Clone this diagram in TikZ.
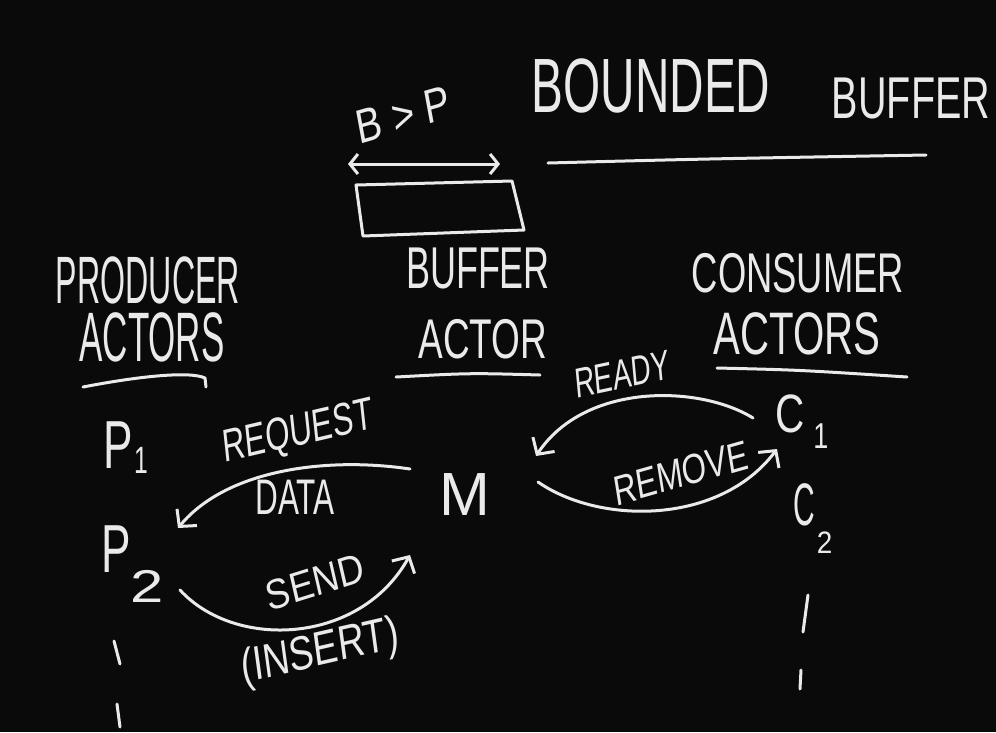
\documentclass[tikz,border=0pt]{standalone}
\usepackage{fontspec}
\setmainfont{Liberation Sans}
\usetikzlibrary{arrows.meta}
\definecolor{board}{HTML}{0A0A0A}
\definecolor{chalk}{HTML}{EAEAEA}
\newcommand{\fsz}[1]{\fontsize{#1}{#1}\selectfont}
\begin{document}
\begin{tikzpicture}[x=1pt,y=-1pt,
  chalkline/.style={draw=chalk, line width=3pt, line cap=round, line join=round},
  chalkarrow/.style={chalkline, -{Straight Barb[length=12pt,width=26pt]}},
  word/.style={text=chalk, inner sep=0pt, transform shape}]
\fill[board] (0,0) rectangle (996,732);
\useasboundingbox (0,0) rectangle (996,732);

% title
\node[word, font=\fsz{77}, xscale=0.62] (tb) at (651,86) {BOUNDED};
\node[word, font=\fsz{59}, xscale=0.67] (tbuf) at (911,98) {BUFFER};
\coordinate (tu1) at (548,163); \coordinate (tu2) at (926,155);
\draw[chalkline] (tu1) .. controls (700,159) .. (tu2);

% B > P and buffer box
\node[word, font=\fsz{48}, xscale=0.8, rotate=13] (bp) at (403,115) {B > P};
\coordinate (bl) at (348,164); \coordinate (br) at (500,164);
\draw[chalkline, {Straight Barb[length=8pt,width=20pt]}-{Straight Barb[length=8pt,width=20pt]}] (bl) -- (br);
\draw[chalkline] (356,185) -- (512,181) -- (524,230) -- (363,236) -- cycle;

% headings
\node[word, font=\fsz{67}, xscale=0.48] (prod1) at (148,280) {PRODUCER};
\node[word, font=\fsz{70}, xscale=0.50] (prod2) at (152,337) {ACTORS};
\draw[chalkline] (83,387) .. controls (140,376) and (190,371) .. (205,378) -- (206,387);

\node[word, font=\fsz{59}, xscale=0.61] (buf1) at (478,268) {BUFFER};
\node[word, font=\fsz{56}, xscale=0.66] (buf2) at (483,339) {ACTOR};
\draw[chalkline] (396,377) .. controls (470,373) .. (540,375);

\node[word, font=\fsz{56}, xscale=0.65] (con1) at (798,273) {CONSUMER};
\node[word, font=\fsz{60}, xscale=0.67] (con2) at (797,334) {ACTORS};
\draw[chalkline] (717,368) .. controls (800,370) .. (907,377);

% producers
\node[word, font=\fsz{68}, xscale=0.65, anchor=base west] (P1) at (103,468) {P\hspace{3pt}\raisebox{-5pt}{\fsz{38}1}};
\node[word, font=\fsz{68}, xscale=0.65, anchor=base west] (P2) at (101,572) {P\raisebox{-30pt}{\fsz{46}\scalebox{2}[1]{2}}};
\draw[chalkline] (114,641) -- (120,664);
\draw[chalkline] (117,704) -- (120,727);

% buffer actor
\node[word, font=\fsz{61}] (M) at (465,495) {M};

% consumers
\node[word, font=\fsz{54}, xscale=0.75, anchor=base west] (C1) at (775,432) {C\hspace{12pt}\raisebox{-16pt}{\fsz{36}1}};
\node[word, font=\fsz{60}, xscale=0.5, anchor=base west] (C2) at (793,525) {C\hspace{4pt}\raisebox{-28pt}{\fsz{31}\scalebox{1.8}[1]{2}}};
\draw[chalkline] (808,595) -- (803,632);
\draw[chalkline] (801,670) -- (800,689);

% request data
\node[word, font=\fsz{46}, xscale=0.68, rotate=9] (req) at (298,434) {REQUEST};
\node[word, font=\fsz{50}, xscale=0.63] (data) at (295,497) {DATA};
\coordinate (rq1) at (410,469); \coordinate (rq2) at (178,528);
\draw[chalkarrow] (rq1) .. controls (330,457) and (228,468) .. (rq2);

% send (insert)
\node[word, font=\fsz{42}, xscale=0.86, rotate=15] (send) at (315,582) {SEND};
\node[word, font=\fsz{48}, xscale=0.77, rotate=10] (ins) at (320,653) {(INSERT)};
\coordinate (sd1) at (180,590); \coordinate (sd2) at (410,555);
\draw[chalkarrow] (sd1) .. controls (235,650) and (360,645) .. (sd2);

% ready
\node[word, font=\fsz{42}, xscale=0.66, rotate=8] (ready) at (622,374) {READY};
\coordinate (rd1) at (753,418); \coordinate (rd2) at (536,456);
\draw[chalkarrow] (rd1) .. controls (700,385) and (585,382) .. (rd2);

% remove
\node[word, font=\fsz{42}, xscale=0.75, rotate=12] (remove) at (681,473) {REMOVE};
\coordinate (rm1) at (538,482); \coordinate (rm2) at (777,449);
\draw[chalkarrow] (rm1) .. controls (600,525) and (720,525) .. (rm2);
\end{tikzpicture}
\end{document}
